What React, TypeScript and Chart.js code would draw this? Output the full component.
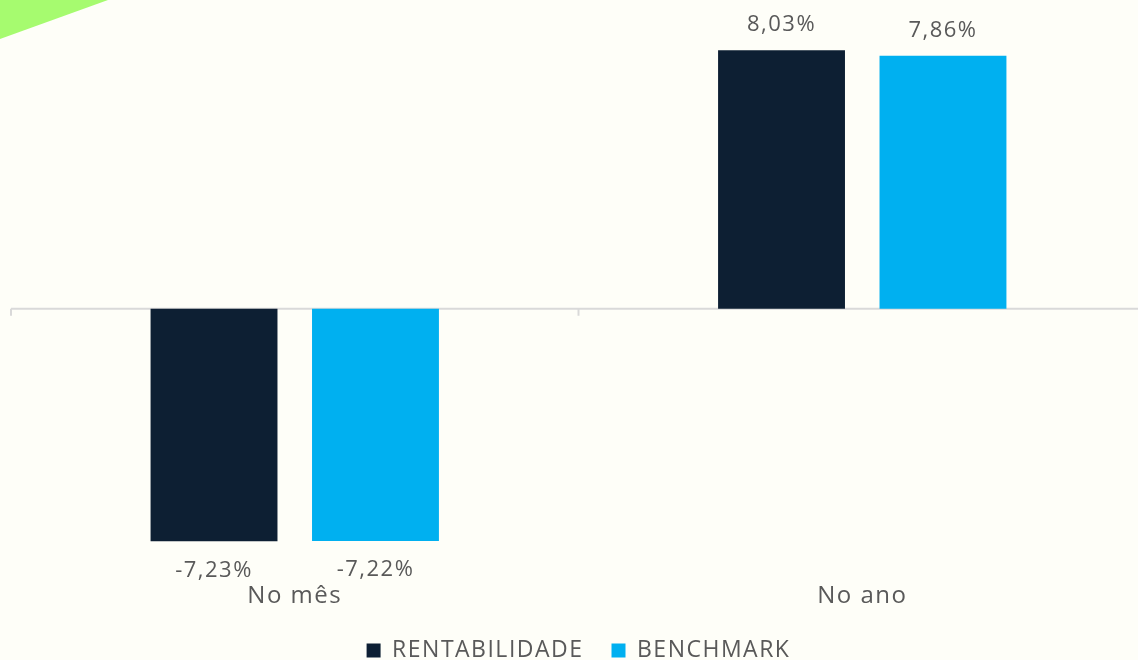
import React, { useEffect, useRef } from "react";
import { Chart, registerables } from "chart.js";

Chart.register(...registerables);

const categories = ["No mês", "No ano"];
const rentabilidade = [-7.23, 8.03];
const benchmark = [-7.22, 7.86];
const seriesNames = ["RENTABILIDADE", "BENCHMARK"];

const FONT = "'Open Sans', 'DejaVu Sans', sans-serif";
const TEXT = "#595959";

const fmt = (v: number) => v.toFixed(2).replace(".", ",") + "%";

const spacingPlugin = {
  id: "spacing",
  beforeUpdate(chart: any) {
    chart.ctx.letterSpacing = "1.5px";
  },
  beforeDraw(chart: any) {
    chart.ctx.letterSpacing = "1.5px";
  },
};

const decorPlugin = {
  id: "decor",
  beforeDatasetsDraw(chart: any) {
    const { ctx, chartArea, scales } = chart;
    const y0 = scales.y.getPixelForValue(0);
    const x = scales.x;
    ctx.save();
    ctx.strokeStyle = "#d9d9d9";
    ctx.lineWidth = 2;
    ctx.beginPath();
    ctx.moveTo(chartArea.left, y0);
    ctx.lineTo(chartArea.right, y0);
    const n = categories.length;
    for (let i = 0; i <= n; i++) {
      const px = x.left + (i * (x.right - x.left)) / n;
      ctx.moveTo(px, y0);
      ctx.lineTo(px, y0 + 7);
    }
    ctx.stroke();
    ctx.restore();
  },
  afterDatasetsDraw(chart: any) {
    const { ctx } = chart;
    ctx.save();
    ctx.font = `22px ${FONT}`;
    ctx.fillStyle = TEXT;
    ctx.textAlign = "center";
    ctx.textBaseline = "middle";
    chart.data.datasets.forEach((ds: any, di: number) => {
      const meta = chart.getDatasetMeta(di);
      meta.data.forEach((el: any, i: number) => {
        const v = ds.data[i];
        const y = v >= 0 ? el.y - 25 : el.y + 29;
        ctx.fillText(fmt(v), el.x, y);
      });
    });
    ctx.restore();
  },
};

export default function App() {
  const ref = useRef<HTMLCanvasElement | null>(null);
  useEffect(() => {
    if (!ref.current) return;
    const chart = new Chart(ref.current, {
      type: "bar",
      data: {
        labels: categories,
        datasets: [
          {
            label: seriesNames[0],
            data: rentabilidade,
            backgroundColor: "#0d1f33",
            categoryPercentage: 0.569,
            barPercentage: 0.786,
          },
          {
            label: seriesNames[1],
            data: benchmark,
            backgroundColor: "#00b0f0",
            categoryPercentage: 0.569,
            barPercentage: 0.786,
          },
        ],
      },
      options: {
        animation: false,
        responsive: true,
        maintainAspectRatio: false,
        layout: { padding: { left: 11, right: 0, top: 19, bottom: -12 } },
        scales: {
          x: {
            grid: { display: false, drawTicks: false, tickLength: 0 },
            border: { display: false },
            ticks: {
              color: TEXT,
              font: { family: FONT, size: 24 },
              padding: 0,
            },
          },
          y: {
            display: false,
            min: -8.5,
            max: 9,
          },
        },
        plugins: {
          tooltip: { enabled: false },
          legend: {
            position: "bottom",
            labels: {
              color: TEXT,
              font: { family: FONT, size: 23 },
              boxWidth: 14,
              boxHeight: 14,
              padding: 28,
            },
          },
        },
      },
      plugins: [spacingPlugin, decorPlugin],
    });
    return () => chart.destroy();
  }, []);

  return (
    <div
      style={{
        position: "fixed",
        left: 0,
        top: 0,
        width: 1138,
        height: 660,
        overflow: "hidden",
        background: "#fefef8",
      }}
    >
      <div
        style={{
          position: "absolute",
          left: 0,
          top: 0,
          width: 150,
          height: 50,
          background: "#a6fb6f",
          clipPath: "polygon(0 0, 72% 0, 0 78%)",
        }}
      />
      <div style={{ position: "absolute", left: 0, top: 0, width: 1146, height: 660 }}>
        <canvas ref={ref} />
      </div>
    </div>
  );
}
